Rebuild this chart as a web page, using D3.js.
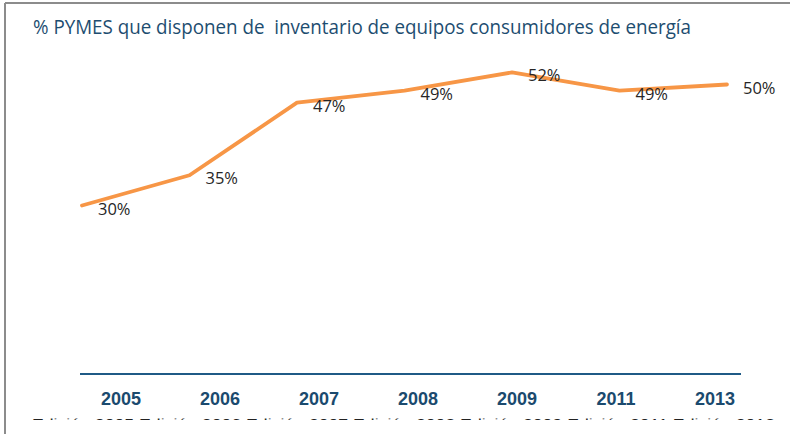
<!DOCTYPE html>
<html>
<head>
<meta charset="utf-8">
<script src="https://cdn.jsdelivr.net/npm/d3@7"></script>
<style>
  html, body { margin: 0; padding: 0; background: #fff; }
  svg { display: block; }
</style>
</head>
<body>
<svg id="chart"></svg>
<script>
// data
const years = ["2005", "2006", "2007", "2008", "2009", "2011", "2013"];
const values = [30, 35, 47, 49, 52, 49, 50];
const labels = ["30%", "35%", "47%", "49%", "52%", "49%", "50%"];
const title = "% PYMES que disponen de  inventario de equipos consumidores de energía";
const hiddenCaption = "Edición 2005 Edición 2006 Edición 2007 Edición 2008 Edición 2009 Edición 2011 Edición 2013";

const width = 790, height = 434;

const svg = d3.select("#chart")
    .attr("width", width)
    .attr("height", height);

// cut-off caption row: only the top sliver shows, the rest is masked below
svg.append("text")
    .attr("x", 32)
    .attr("y", 429)
    .attr("font-family", "'Liberation Sans', Arial, sans-serif")
    .attr("font-size", 15)
    .attr("textLength", 743)
    .attr("lengthAdjust", "spacingAndGlyphs")
    .attr("fill", "#222")
    .text(hiddenCaption);
svg.append("rect")
    .attr("x", 20).attr("y", 420).attr("width", width).attr("height", 20)
    .attr("fill", "#fff");
svg.append("rect")
    .attr("x", 20).attr("y", 405).attr("width", width).attr("height", 13.5)
    .attr("fill", "#fff");

// frame (top + left visible)
svg.append("line")
    .attr("x1", 5).attr("x2", width).attr("y1", 3).attr("y2", 3)
    .attr("stroke", "#8c8c8c").attr("stroke-width", 2);
svg.append("line")
    .attr("x1", 5).attr("x2", 5).attr("y1", 3).attr("y2", height)
    .attr("stroke", "#8c8c8c").attr("stroke-width", 2);

// title, squeezed to the reference width (the original uses a narrow font)
svg.append("text")
    .attr("x", 33)
    .attr("y", 34)
    .attr("font-family", "'Open Sans', 'Noto Sans', sans-serif")
    .attr("font-size", 19.5)
    .attr("fill", "#1d4d70")
    .attr("textLength", 658)
    .attr("lengthAdjust", "spacingAndGlyphs")
    .style("white-space", "pre")
    .text(title);

// scales
const x = d3.scalePoint().domain(years).range([82, 727]);
const xLabel = d3.scalePoint().domain(years).range([121, 715]);
const y = d3.scaleLinear().domain([0, 60]).range([387, 24]);

// baseline axis
svg.append("line")
    .attr("x1", 80).attr("x2", 741)
    .attr("y1", 374).attr("y2", 374)
    .attr("stroke", "#1f5a86").attr("stroke-width", 2.2);

// year labels
svg.append("g")
    .selectAll("text")
    .data(years)
    .join("text")
        .attr("x", d => xLabel(d))
        .attr("y", 405)
        .attr("text-anchor", "middle")
        .attr("font-family", "'Liberation Sans', Arial, sans-serif")
        .attr("font-weight", "bold")
        .attr("font-size", 18)
        .attr("fill", "#1b4a6e")
        .text(d => d);

// series line
const line = d3.line()
    .x((d, i) => x(years[i]))
    .y(d => y(d));

svg.append("path")
    .datum(values)
    .attr("d", line)
    .attr("fill", "none")
    .attr("stroke", "#f79646")
    .attr("stroke-width", 3.8)
    .attr("stroke-linejoin", "round")
    .attr("stroke-linecap", "round");

// data labels
svg.append("g")
    .selectAll("text")
    .data(values)
    .join("text")
        .attr("x", (d, i) => x(years[i]) + 16)
        .attr("y", d => y(d) + 9)
        .attr("font-family", "'Open Sans', 'Noto Sans', sans-serif")
        .attr("font-size", 16.5)
        .attr("fill", "#262626")
        .text((d, i) => labels[i]);
</script>
</body>
</html>
